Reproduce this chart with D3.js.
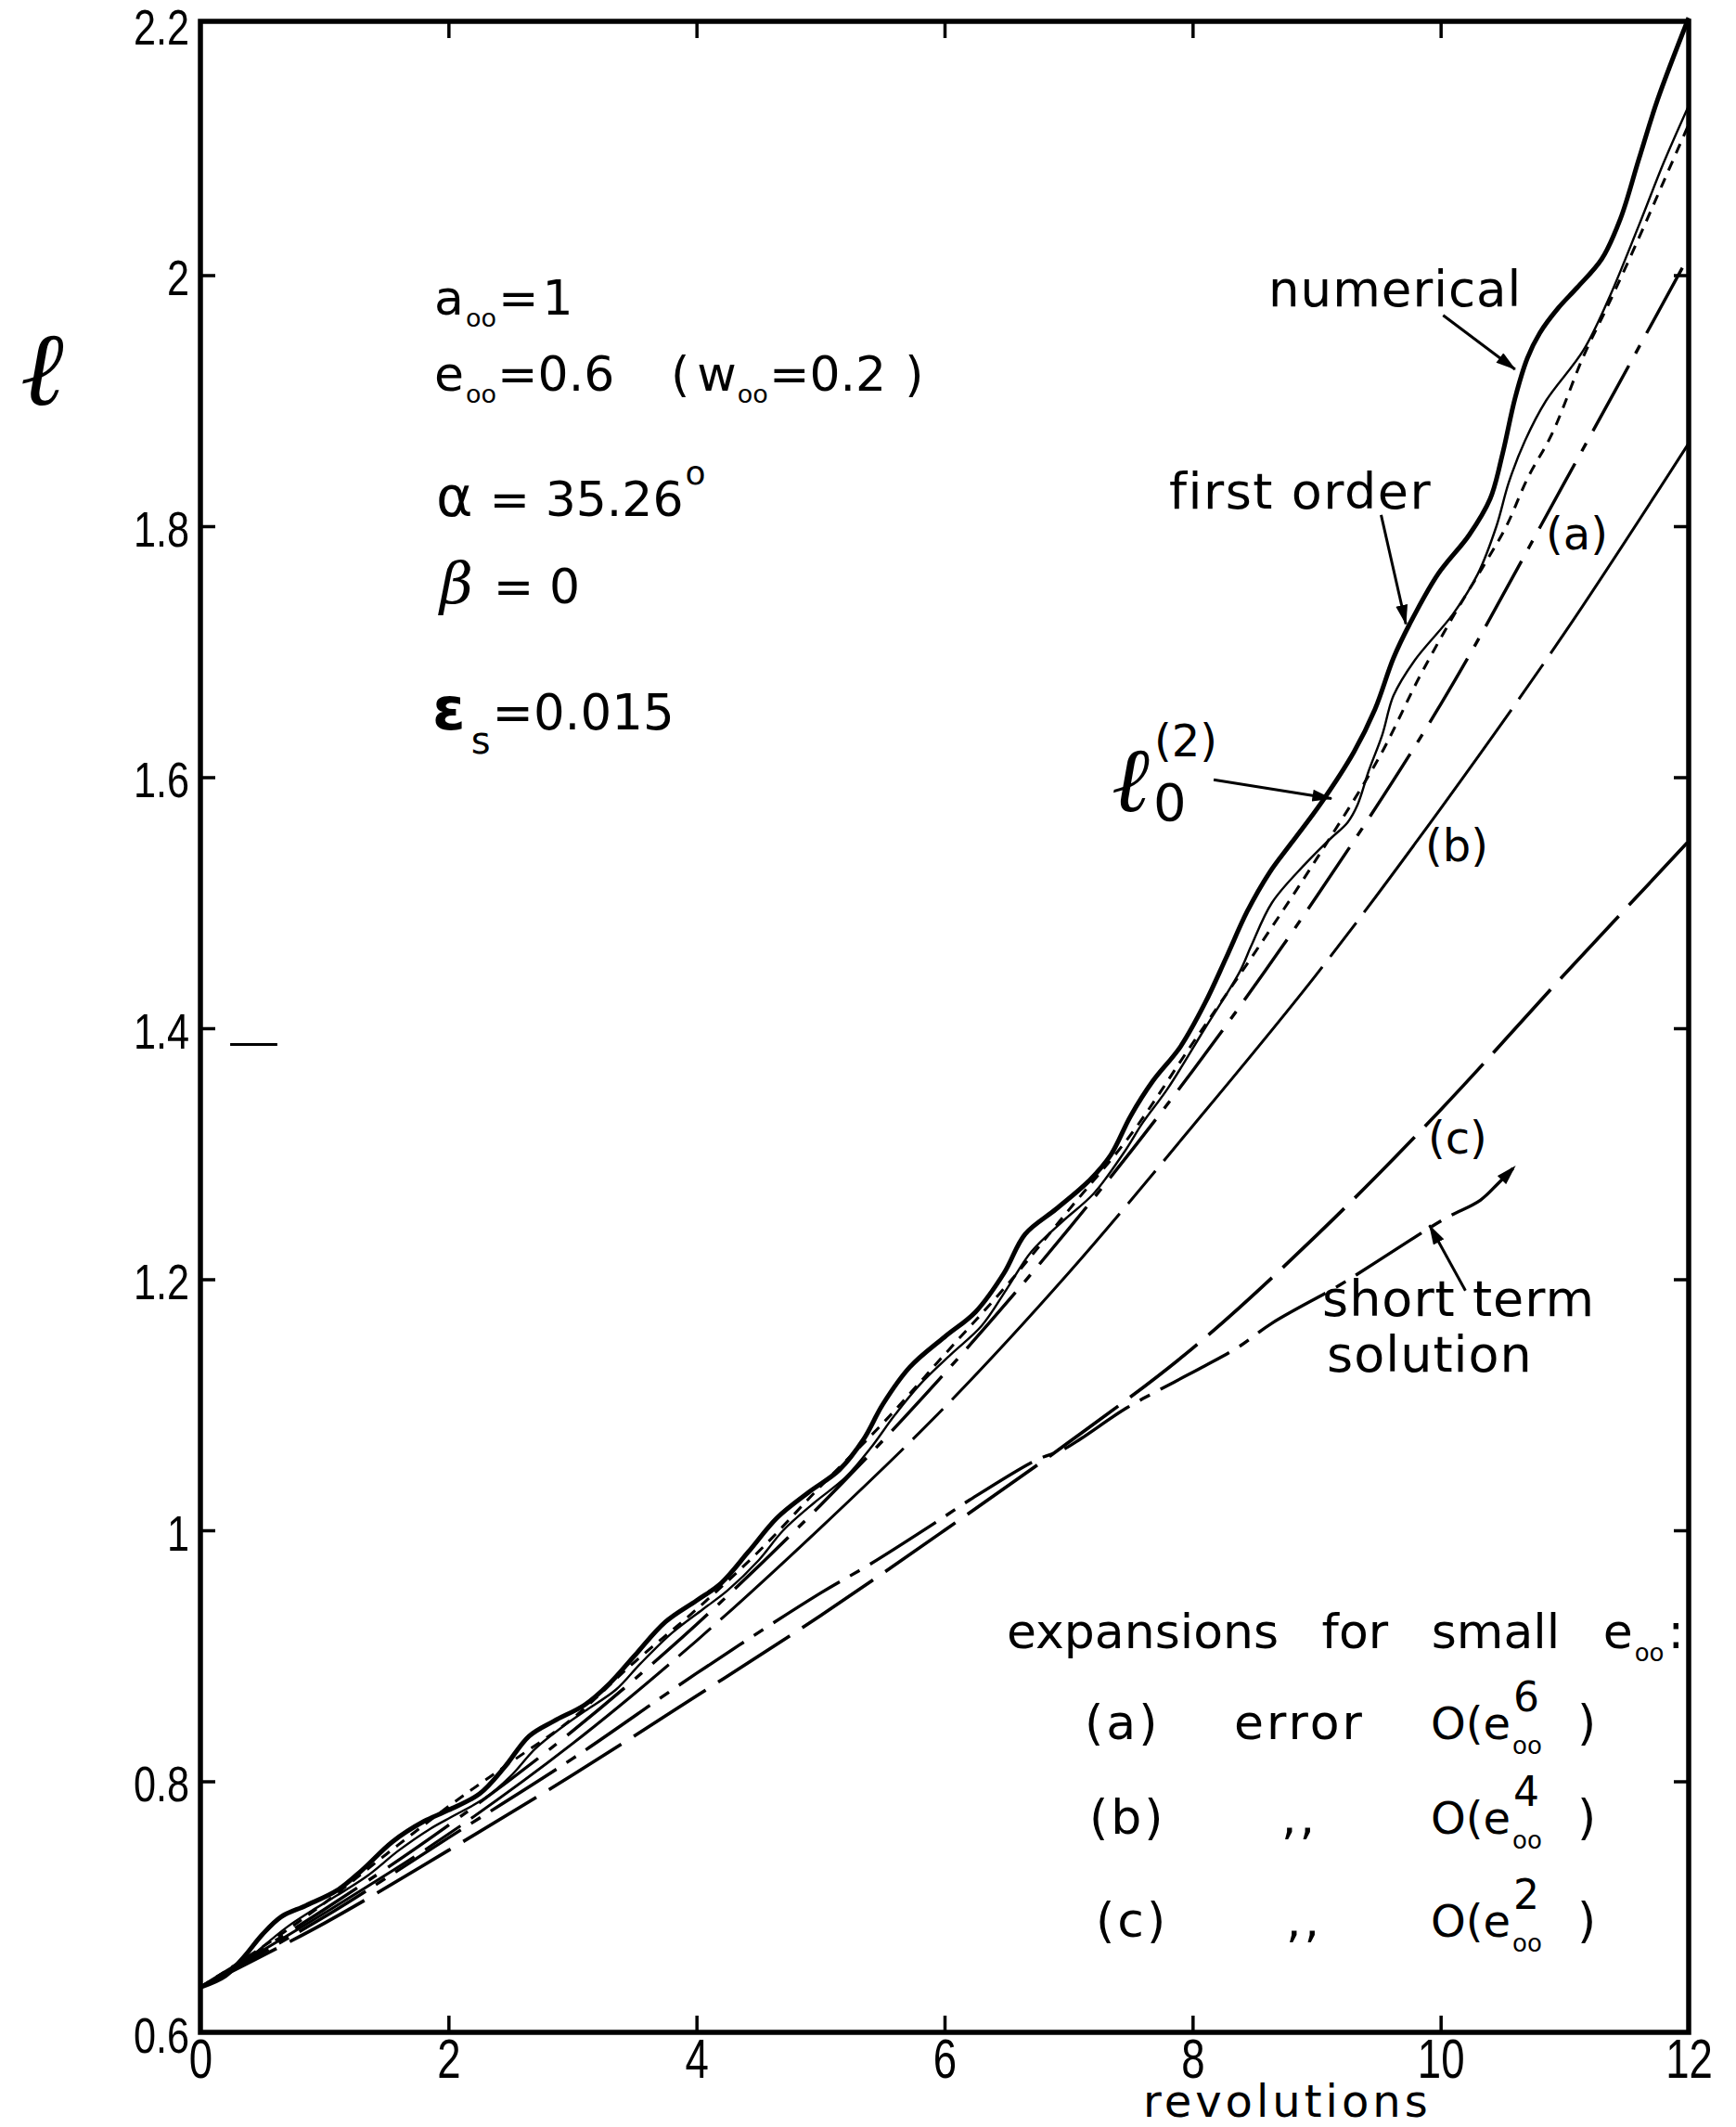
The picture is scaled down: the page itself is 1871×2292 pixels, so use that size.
<!DOCTYPE html>
<html><head><meta charset="utf-8">
<script src="https://cdn.jsdelivr.net/npm/d3@7/dist/d3.min.js"></script>
<style>body{margin:0;background:#fff}svg{display:block}text{fill:#000}</style>
</head><body>
<script>
// ---------- data ----------
const xTicks = [0, 2, 4, 6, 8, 10, 12];
const xInnerTicks = [2, 4, 6, 8, 10];
const yTicks = [0.6, 0.8, 1, 1.2, 1.4, 1.6, 1.8, 2, 2.2];
const yTickLabels = ["0.6", "0.8", "1", "1.2", "1.4", "1.6", "1.8", "2", "2.2"];
const yInnerTicks = [0.8, 1, 1.2, 1.4, 1.6, 1.8, 2];

// numerical / l0(2) (thick solid)
const revNumerical = [0, 0.2, 0.35, 0.5, 0.65, 0.85, 1.1, 1.3, 1.55, 1.8, 2.0, 2.25, 2.45, 2.65, 2.85, 3.1, 3.3, 3.5, 3.75, 4.0, 4.2, 4.42, 4.65, 4.9, 5.15, 5.35, 5.5, 5.72, 6.0, 6.25, 6.48, 6.65, 6.9, 7.17, 7.34, 7.5, 7.68, 7.9, 8.1, 8.27, 8.44, 8.62, 8.8, 9.04, 9.3, 9.47, 9.62, 9.75, 9.98, 10.23, 10.4, 10.5, 10.6, 10.7, 10.8, 10.95, 11.1, 11.3, 11.45, 11.6, 11.75, 12.0];
const ellNumerical = [0.636, 0.645, 0.66, 0.678, 0.692, 0.701, 0.713, 0.729, 0.752, 0.768, 0.777, 0.79, 0.811, 0.836, 0.848, 0.861, 0.878, 0.9, 0.927, 0.944, 0.958, 0.983, 1.01, 1.03, 1.048, 1.073, 1.1, 1.13, 1.154, 1.174, 1.205, 1.236, 1.256, 1.279, 1.299, 1.33, 1.358, 1.385, 1.42, 1.456, 1.493, 1.524, 1.548, 1.58, 1.62, 1.654, 1.695, 1.722, 1.762, 1.793, 1.822, 1.858, 1.902, 1.934, 1.954, 1.974, 1.99, 2.013, 2.045, 2.093, 2.14, 2.205];

// first order (thin solid, wavy)
const revFirstOrder = [0, 0.35, 0.5, 0.7, 0.9, 1.1, 1.35, 1.6, 1.85, 2.05, 2.3, 2.5, 2.7, 2.9, 3.1, 3.35, 3.55, 3.8, 4.05, 4.25, 4.5, 4.7, 4.95, 5.2, 5.4, 5.6, 5.8, 6.05, 6.3, 6.5, 6.7, 6.95, 7.2, 7.44, 7.6, 7.8, 8.1, 8.38, 8.47, 8.64, 8.9, 9.1, 9.25, 9.33, 9.42, 9.53, 9.62, 9.79, 10.1, 10.3, 10.45, 10.55, 10.68, 10.85, 11.15, 11.35, 11.6, 11.8, 12];
const ellFirstOrder = [0.636, 0.655, 0.668, 0.684, 0.697, 0.709, 0.725, 0.745, 0.762, 0.773, 0.787, 0.804, 0.826, 0.842, 0.856, 0.873, 0.894, 0.918, 0.937, 0.952, 0.976, 1.0, 1.022, 1.042, 1.065, 1.092, 1.116, 1.14, 1.163, 1.192, 1.222, 1.246, 1.268, 1.3, 1.325, 1.352, 1.4, 1.445, 1.465, 1.5, 1.53, 1.55, 1.564, 1.578, 1.605, 1.634, 1.665, 1.693, 1.73, 1.762, 1.8, 1.835, 1.868, 1.9, 1.94, 1.98, 2.04, 2.09, 2.135];

// dotted curve
const revDotted = [0, 0.5, 1, 1.5, 2, 2.5, 3, 3.5, 4, 4.5, 5, 5.5, 6, 6.5, 7, 7.5, 8, 8.5, 9, 9.5, 9.83, 10.1, 10.35, 10.53, 10.7, 10.9, 11.15, 11.35, 11.6, 11.8, 12];
const ellDotted = [0.636, 0.668, 0.703, 0.742, 0.78, 0.815, 0.85, 0.895, 0.937, 0.983, 1.035, 1.085, 1.14, 1.195, 1.255, 1.315, 1.388, 1.46, 1.535, 1.615, 1.68, 1.728, 1.769, 1.80, 1.838, 1.874, 1.935, 1.976, 2.03, 2.075, 2.12];

// expansions (a), (b), (c)
const revExp = [0, 1, 2, 3, 4, 5, 6, 7, 8, 9, 10, 11, 12];
const ellA = [0.636, 0.698, 0.765, 0.84, 0.925, 1.02, 1.125, 1.24, 1.366, 1.505, 1.658, 1.835, 2.015];
const ellB = [0.636, 0.695, 0.758, 0.83, 0.912, 1.002, 1.098, 1.205, 1.322, 1.443, 1.575, 1.715, 1.866];
const ellC = [0.636, 0.687, 0.745, 0.805, 0.868, 0.932, 1.0, 1.07, 1.145, 1.235, 1.335, 1.443, 1.549];

// short term solution
const revShort = [0, 1, 2, 3, 4, 5, 5.4, 5.94, 6.2, 6.74, 6.95, 7.1, 7.46, 7.85, 8.1, 8.37, 8.64, 9.18, 9.47, 10.03, 10.32, 10.46, 10.6];
const ellShort = [0.636, 0.692, 0.755, 0.818, 0.886, 0.95, 0.973, 1.007, 1.024, 1.056, 1.064, 1.073, 1.097, 1.118, 1.131, 1.146, 1.165, 1.195, 1.213, 1.248, 1.263, 1.276, 1.29];

// annotation arrows (data units): [x0, y0, x1, y1]
const arrowNumerical = [10.02, 1.968, 10.60, 1.925];
const arrowFirstOrder = [9.52, 1.809, 9.72, 1.722];
const arrowL02 = [8.17, 1.598, 9.12, 1.583];
const arrowShort = [10.20, 1.191, 9.91, 1.243];
const strayMark = [0.24, 1.387, 0.62, 1.387];

// ---------- drawing ----------
const W = 1871, H = 2292;
const svg = d3.select("body").append("svg").attr("width", W).attr("height", H)
  .attr("viewBox", `0 0 ${W} ${H}`);
svg.append("rect").attr("width", W).attr("height", H).attr("fill", "#fff");

const x = d3.scaleLinear().domain([0, 12]).range([216, 1820]);
const y = d3.scaleLinear().domain([0.6, 2.2]).range([2190, 26]);

const defs = svg.append("defs");
defs.append("marker").attr("id", "ah").attr("viewBox", "0 0 20 12")
  .attr("refX", 19).attr("refY", 6).attr("markerWidth", 22).attr("markerHeight", 13)
  .attr("markerUnits", "userSpaceOnUse").attr("orient", "auto")
  .append("path").attr("d", "M0,0 L20,6 L0,12 Z").attr("fill", "#000");

// frame
svg.append("rect").attr("x", x(0)).attr("y", y(2.2) - 3).attr("width", x(12) - x(0))
  .attr("height", y(0.6) - y(2.2) + 3).attr("fill", "none").attr("stroke", "#000").attr("stroke-width", 5.5);

// inner ticks
function styleTicks(g) {
  g.select(".domain").remove();
  g.selectAll("line").attr("stroke", "#000").attr("stroke-width", 3.5);
}
svg.append("g").attr("transform", `translate(${x(0)},0)`)
  .call(d3.axisLeft(y).tickValues(yInnerTicks).tickSize(-16).tickFormat("")).call(styleTicks);
svg.append("g").attr("transform", `translate(${x(12)},0)`)
  .call(d3.axisRight(y).tickValues(yInnerTicks).tickSize(-16).tickFormat("")).call(styleTicks);
svg.append("g").attr("transform", `translate(0,${y(2.2) - 3})`)
  .call(d3.axisTop(x).tickValues(xInnerTicks).tickSize(-18).tickFormat("")).call(styleTicks);
svg.append("g").attr("transform", `translate(0,${y(0.6)})`)
  .call(d3.axisBottom(x).tickValues(xInnerTicks).tickSize(-18).tickFormat("")).call(styleTicks);

// tick labels (narrow lettering)
function narrow(g, size, sx) {
  g.select(".domain").remove();
  g.selectAll(".tick line").remove();
  g.attr("font-size", null).attr("font-family", null);
  g.selectAll("text").each(function () {
    const t = d3.select(this);
    const xx = +t.attr("x") || 0, yy = +t.attr("y") || 0;
    t.attr("x", null).attr("y", null)
      .attr("font-size", size)
      .attr("font-family", "'Liberation Sans', Arial, sans-serif")
      .attr("transform", `translate(${xx},${yy}) scale(${sx},1)`)
      .attr("fill", "#000");
  });
}
svg.append("g").attr("transform", `translate(${x(0) - 10},4)`)
  .call(d3.axisLeft(y).tickValues(yTicks).tickSize(0).tickPadding(2)
    .tickFormat((d, i) => yTickLabels[i]))
  .call(g => narrow(g, 54, 0.8));
svg.append("g").attr("transform", `translate(0,${y(0.6)})`)
  .call(d3.axisBottom(x).tickValues(xTicks).tickSize(0).tickPadding(6).tickFormat(d3.format("d")))
  .call(g => narrow(g, 60, 0.76));

// curves
const line = d3.line().x(d => x(d[0])).y(d => y(d[1])).curve(d3.curveCatmullRom.alpha(0.5));
const zip = (a, b) => a.map((v, i) => [v, b[i]]);
function curve(data, w, dash, marker) {
  const p = svg.append("path").datum(data).attr("d", line).attr("fill", "none")
    .attr("stroke", "#000").attr("stroke-width", w)
    .attr("stroke-linejoin", "round").attr("stroke-linecap", "butt");
  if (dash) p.attr("stroke-dasharray", dash);
  if (marker) p.attr("marker-end", marker);
  return p;
}
curve(zip(revExp, ellC), 3.6, "92,16");
curve(zip(revShort, ellShort), 3.4, "84,13,12,13", "url(#ah)");
curve(zip(revExp, ellB), 3.0, "270,14,46,14");
curve(zip(revExp, ellA), 3.4, "80,15,10,15");
curve(zip(revDotted, ellDotted), 3.0, "11,9");
curve(zip(revFirstOrder, ellFirstOrder), 2.4);
curve(zip(revNumerical, ellNumerical), 5);

// arrows
function arrow(a) {
  svg.append("line").attr("x1", x(a[0])).attr("y1", y(a[1])).attr("x2", x(a[2])).attr("y2", y(a[3]))
    .attr("stroke", "#000").attr("stroke-width", 3).attr("marker-end", "url(#ah)");
}
[arrowNumerical, arrowFirstOrder, arrowL02, arrowShort].forEach(arrow);
svg.append("line").attr("x1", x(strayMark[0])).attr("y1", y(strayMark[1]))
  .attr("x2", x(strayMark[2])).attr("y2", y(strayMark[3])).attr("stroke", "#000").attr("stroke-width", 3);

// ---------- text ----------
const SANS = "'DejaVu Sans', Verdana, sans-serif";
const SERIF = "'DejaVu Serif', serif";
function txt(xp, yp, s, size, opts = {}) {
  const t = svg.append("text").attr("x", xp).attr("y", yp).attr("font-family", opts.family || SANS)
    .attr("font-size", size);
  if (s !== null) t.text(s);
  if (opts.italic) t.attr("font-style", "italic");
  if (opts.bold) t.attr("font-weight", "bold");
  if (opts.ls) t.attr("letter-spacing", opts.ls);
  if (opts.ws) t.attr("word-spacing", opts.ws);
  if (opts.anchor) t.attr("text-anchor", opts.anchor);
  return t;
}
// text made of runs: [string, fontSize, dy, dx, extra]
function runs(xp, yp, parts, family) {
  const t = txt(xp, yp, null, 52, { family });
  parts.forEach(p => {
    const s = t.append("tspan").text(p[0]).attr("font-size", p[1]);
    if (p[2]) s.attr("dy", p[2]);
    if (p[3]) s.attr("dx", p[3]);
    if (p[4]) Object.entries(p[4]).forEach(([k, v]) => s.attr(k, v));
  });
  return t;
}

// axis titles
txt(22, 436, "ℓ", 112, { family: SERIF, italic: true });
txt(1232, 2281, "revolutions", 48, { ls: 4 });

// parameter block
runs(468, 339, [["a", 52], ["oo", 27, 13, 2], ["=", 52, -13, 2], ["1", 52, 0, 4]]);
runs(468, 421, [["e", 52], ["oo", 27, 13, 2], ["=0.6", 52, -13, 1]]);
runs(723, 421, [["(", 52], ["w", 52, 0, 8], ["oo", 27, 13, 1], ["=0.2", 52, -13, 1], [")", 52, 0, 20]]);
runs(470, 556, [["α", 60], ["= 35.26", 52, 0, 18], ["o", 36, -34, 2]]);
runs(474, 650, [["β", 62, 0, 0, { "font-family": SERIF, "font-style": "italic" }], ["= 0", 52, 0, 22]]);
runs(466, 786, [["ε", 64, 0, 0, { "font-weight": "bold" }], ["s", 40, 26, 6], ["=0.015", 53, -26, 2]]);

// curve labels
txt(1367, 330, "numerical", 53, { ls: 1 });
txt(1260, 548, "first order", 54, { ls: 1.5 });
txt(1666, 592, "(a)", 48);
txt(1536, 928, "(b)", 48);
txt(1539, 1243, "(c)", 48);
txt(1198, 874, "ℓ", 98, { family: SERIF, italic: true });
txt(1244, 815, "(2)", 48);
txt(1243, 884, "0", 56);
txt(1425, 1418, "short term", 54, { ls: 1 });
txt(1430, 1478, "solution", 54, { ls: 1 });

// legend block
runs(1085, 1776, [["expansions for small e", 52, 0, 0, { "word-spacing": 30 }], ["oo", 26, 14, 2], [":", 52, -14, 4]]);
const rows = [
  { tag: "(a)", tx: 1169, mid: "error", mx: 1330, sup: "6", by: 1874 },
  { tag: "(b)", tx: 1174, mid: ",,", mx: 1381, sup: "4", by: 1976 },
  { tag: "(c)", tx: 1181, mid: ",,", mx: 1386, sup: "2", by: 2087 }
];
rows.forEach(r => {
  txt(r.tx, r.by, r.tag, 52, { ls: 3 });
  txt(r.mx, r.by, r.mid, 52, { ls: 3 });
  const o = txt(1542, r.by, "O(e", 48);
  const w = o.node().getComputedTextLength();
  txt(1542 + w + 2, r.by + 16, "oo", 26);
  txt(1542 + w + 3, r.by - 30, r.sup, 44);
  txt(1700, r.by, ")", 52);
});
</script>
</body></html>
